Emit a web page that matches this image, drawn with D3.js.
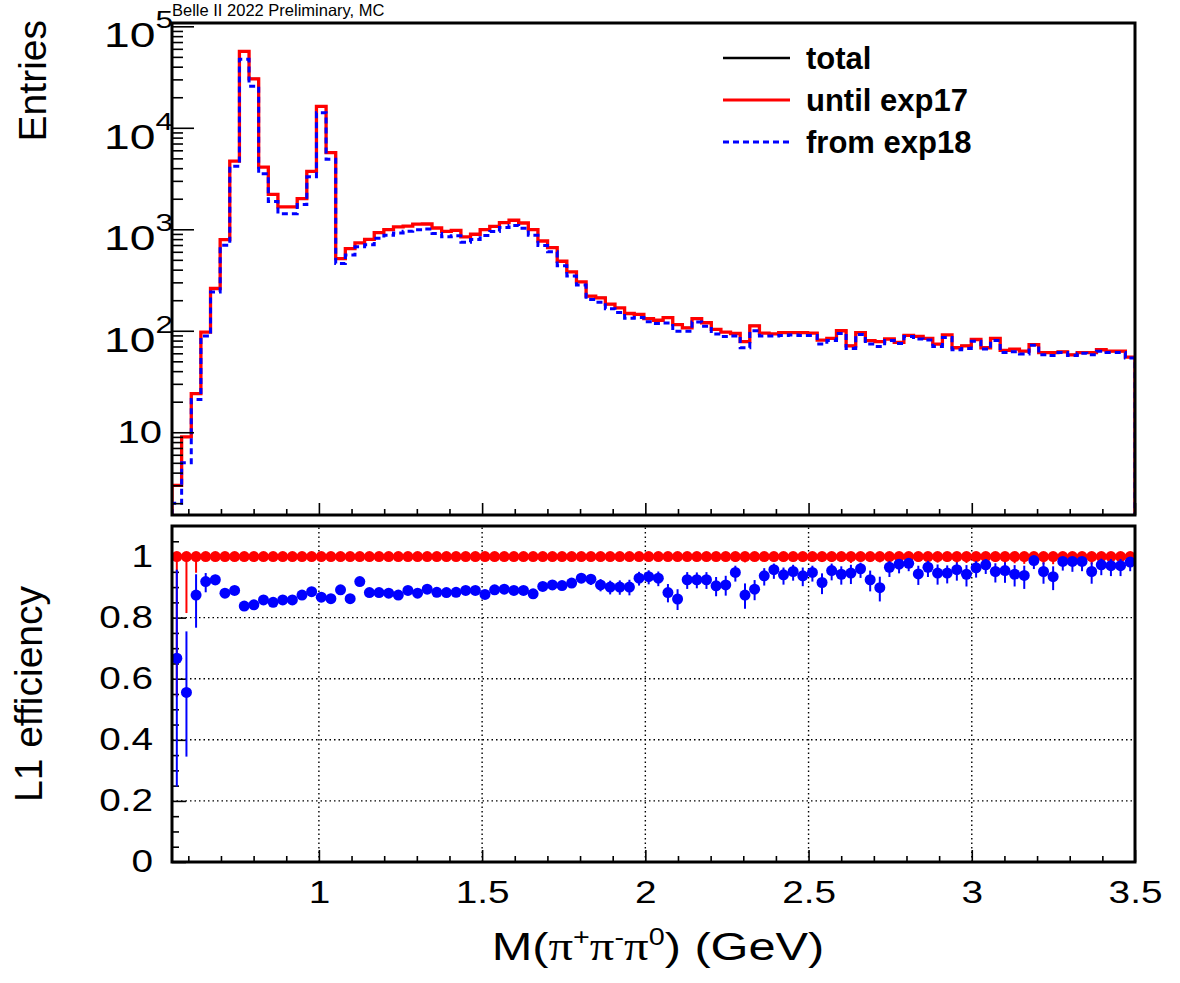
<!DOCTYPE html>
<html>
<head>
<meta charset="utf-8">
<script src="https://cdn.jsdelivr.net/npm/d3@7"></script>
<style>
  body { margin: 0; background: #fff; }
  svg { display: block; font-family: "Liberation Sans", Arial, sans-serif; }
</style>
</head>
<body>
<svg class="graph" width="1180" height="983"></svg>
<script>
// ---- data ----
const massRange = [0.55, 3.5];              // GeV, 100 bins
const xTickValues = [1, 1.5, 2, 2.5, 3, 3.5];
const logTickValues = [10, 100, 1000, 10000, 100000];
const effTickValues = [0, 0.2, 0.4, 0.6, 0.8, 1];

const total = [
    3, 9, 24, 97, 261, 792, 4700, 56500, 30400, 4100,
    2210, 1660, 1660, 2005, 3720, 16250, 5690, 515, 646, 733,
    797, 927, 993, 1054, 1075, 1125, 1128, 1030, 955, 977,
    840, 893, 993, 1070, 1164, 1227, 1153, 993, 767, 661,
    484, 380, 303, 219, 211, 183, 168, 148, 145, 132,
    127, 135, 115, 107, 132, 120, 103, 97, 94, 78,
    112, 95, 93, 96, 96, 96, 95, 81, 84, 100,
    71, 96, 80, 78, 83, 77, 90, 88, 84, 74,
    91, 68, 71, 82, 68, 84, 64, 66, 63, 73,
    61, 61, 62, 58, 61, 61, 65, 63, 63, 55
];
// until exp17 passes every event, so it sits exactly on top of the total
const untilExp17 = total.slice();
const fromExp18 = [
    2, 5, 21, 89, 241, 697, 4180, 47350, 25600, 3520,
    1880, 1425, 1425, 1752, 3292, 14090, 4905, 459, 557, 673,
    703, 818, 874, 921, 956, 990, 1007, 909, 842, 863,
    747, 794, 868, 953, 1039, 1091, 1025, 872, 692, 600,
    438, 347, 282, 203, 191, 165, 151, 133, 135, 123,
    118, 119, 99, 99, 122, 111, 93, 88, 89, 68,
    100, 89, 89, 90, 91, 90, 90, 74, 80, 94,
    67, 92, 74, 70, 80, 75, 88, 83, 81, 70,
    86, 65, 67, 79, 66, 80, 61, 62, 59, 72,
    58, 57, 61, 57, 60, 58, 63, 61, 61, 54
];

const effExp17 = [
    1, 1, 1, 1, 1, 1, 1, 1, 1, 1, 1, 1, 1, 1, 1, 1, 1, 1, 1, 1,
    1, 1, 1, 1, 1, 1, 1, 1, 1, 1, 1, 1, 1, 1, 1, 1, 1, 1, 1, 1,
    1, 1, 1, 1, 1, 1, 1, 1, 1, 1, 1, 1, 1, 1, 1, 1, 1, 1, 1, 1,
    1, 1, 1, 1, 1, 1, 1, 1, 1, 1, 1, 1, 1, 1, 1, 1, 1, 1, 1, 1,
    1, 1, 1, 1, 1, 1, 1, 1, 1, 1, 1, 1, 1, 1, 1, 1, 1, 1, 1, 1
];
const effExp17ErrLo = [
    0.46, 0.185, 0.053, 0.012, 0.005, 0.002, 0.0003, 0.00003, 0.00005, 0.0003,
    0.0006, 0.0008, 0.0008, 0.0007, 0.0004, 0.0001, 0.0002, 0.003, 0.002, 0.002,
    0.002, 0.002, 0.002, 0.002, 0.002, 0.002, 0.002, 0.002, 0.002, 0.002,
    0.002, 0.002, 0.002, 0.002, 0.002, 0.002, 0.002, 0.002, 0.002, 0.002,
    0.003, 0.004, 0.005, 0.007, 0.007, 0.008, 0.009, 0.010, 0.010, 0.011,
    0.012, 0.011, 0.013, 0.014, 0.011, 0.012, 0.014, 0.015, 0.016, 0.019,
    0.013, 0.016, 0.016, 0.016, 0.016, 0.016, 0.016, 0.018, 0.018, 0.015,
    0.021, 0.016, 0.018, 0.019, 0.018, 0.019, 0.017, 0.017, 0.018, 0.020,
    0.017, 0.022, 0.021, 0.018, 0.022, 0.018, 0.023, 0.022, 0.024, 0.020,
    0.025, 0.025, 0.024, 0.026, 0.025, 0.025, 0.023, 0.024, 0.024, 0.027
];

const effExp18 = [
    0.667, 0.555, 0.874, 0.918, 0.924, 0.880, 0.889, 0.838, 0.842, 0.858,
    0.850, 0.858, 0.858, 0.874, 0.885, 0.867, 0.862, 0.891, 0.862, 0.918,
    0.882, 0.882, 0.880, 0.874, 0.889, 0.880, 0.893, 0.883, 0.882, 0.883,
    0.889, 0.889, 0.876, 0.891, 0.893, 0.889, 0.889, 0.878, 0.902, 0.907,
    0.905, 0.913, 0.929, 0.926, 0.907, 0.900, 0.900, 0.900, 0.929, 0.934,
    0.929, 0.882, 0.861, 0.924, 0.924, 0.924, 0.904, 0.907, 0.948, 0.874,
    0.893, 0.937, 0.957, 0.940, 0.951, 0.937, 0.948, 0.915, 0.954, 0.942,
    0.946, 0.960, 0.924, 0.898, 0.965, 0.975, 0.978, 0.943, 0.965, 0.946,
    0.946, 0.957, 0.942, 0.963, 0.973, 0.951, 0.954, 0.942, 0.938, 0.987,
    0.951, 0.934, 0.984, 0.984, 0.984, 0.951, 0.973, 0.970, 0.970, 0.982
];
const effExp18ErrLo = [
    0.42, 0.21, 0.107, 0.035, 0.018, 0.012, 0.005, 0.002, 0.002, 0.005,
    0.008, 0.009, 0.009, 0.008, 0.006, 0.003, 0.005, 0.015, 0.014, 0.012,
    0.012, 0.011, 0.011, 0.011, 0.010, 0.010, 0.010, 0.011, 0.011, 0.011,
    0.012, 0.011, 0.011, 0.010, 0.010, 0.009, 0.010, 0.011, 0.011, 0.012,
    0.014, 0.015, 0.016, 0.019, 0.021, 0.024, 0.025, 0.027, 0.024, 0.025,
    0.026, 0.032, 0.036, 0.030, 0.028, 0.030, 0.034, 0.035, 0.030, 0.045,
    0.036, 0.032, 0.030, 0.032, 0.030, 0.034, 0.030, 0.038, 0.032, 0.034,
    0.036, 0.030, 0.038, 0.045, 0.032, 0.030, 0.026, 0.036, 0.032, 0.038,
    0.034, 0.036, 0.040, 0.032, 0.030, 0.036, 0.040, 0.040, 0.044, 0.028,
    0.040, 0.044, 0.030, 0.034, 0.032, 0.040, 0.034, 0.034, 0.034, 0.030
];
const effExp18ErrHi = [
    0.29, 0.20, 0.068, 0.028, 0.016, 0.011, 0.005, 0.002, 0.002, 0.005,
    0.008, 0.009, 0.009, 0.008, 0.006, 0.003, 0.005, 0.014, 0.013, 0.011,
    0.011, 0.010, 0.010, 0.010, 0.009, 0.009, 0.009, 0.010, 0.010, 0.010,
    0.011, 0.010, 0.010, 0.009, 0.009, 0.008, 0.009, 0.010, 0.010, 0.011,
    0.013, 0.014, 0.014, 0.016, 0.019, 0.021, 0.022, 0.024, 0.021, 0.021,
    0.022, 0.028, 0.032, 0.025, 0.024, 0.025, 0.029, 0.030, 0.022, 0.038,
    0.030, 0.025, 0.020, 0.024, 0.022, 0.027, 0.022, 0.030, 0.023, 0.026,
    0.027, 0.020, 0.030, 0.036, 0.020, 0.017, 0.015, 0.027, 0.021, 0.028,
    0.025, 0.024, 0.030, 0.022, 0.019, 0.027, 0.027, 0.030, 0.032, 0.012,
    0.030, 0.034, 0.014, 0.015, 0.014, 0.030, 0.020, 0.022, 0.022, 0.016
];

const legendItems = [
    { label: 'total', color: '#000', width: 2.4, dash: null },
    { label: 'until exp17', color: '#ff0000', width: 3, dash: null },
    { label: 'from exp18', color: '#0000ff', width: 3, dash: '6,4' }
];

// ---- layout ----
const frame = { left: 172, right: 1135 };
const topPad = { top: 23, bottom: 515 };
const botPad = { top: 526, bottom: 862 };
const labelStretch = 1.25;  // ROOT labels render wider than Liberation Sans

const svg = d3.select('svg.graph');

const x = d3.scaleLinear().domain(massRange).range([frame.left, frame.right]);
const yLog = d3.scaleLog().domain([1.53, 1.078e5]).range([topPad.bottom, topPad.top]);
const yEff = d3.scaleLinear().domain([0, 1.1]).range([botPad.bottom, botPad.top]);

const nBins = total.length;
const binW = (massRange[1] - massRange[0]) / nBins;
const edges = d3.range(nBins + 1).map(i => massRange[0] + i * binW);
const centers = d3.range(nBins).map(i => massRange[0] + (i + 0.5) * binW);

// clip paths for both pads
const defs = svg.append('defs');
defs.append('clipPath').attr('id', 'clipTop').append('rect')
    .attr('x', frame.left).attr('y', topPad.top)
    .attr('width', frame.right - frame.left).attr('height', topPad.bottom - topPad.top);
defs.append('clipPath').attr('id', 'clipBot').append('rect')
    .attr('x', frame.left).attr('y', botPad.top)
    .attr('width', frame.right - frame.left).attr('height', botPad.bottom - botPad.top);

// header
svg.append('text')
    .attr('x', frame.left).attr('y', 16)
    .attr('font-size', 16.5)
    .text('Belle II 2022 Preliminary, MC');

//// top pad: histograms
const yMin = yLog.domain()[0];
const stepPoints = vals => {
    const pts = [[edges[0], yMin]];
    vals.forEach((v, i) => pts.push([edges[i], v], [edges[i + 1], v]));
    pts.push([edges[nBins], yMin]);
    return pts;
};
const histLine = d3.line()
    .x(d => x(d[0]))
    .y(d => yLog(Math.max(d[1], yMin)));

const histG = svg.append('g').attr('clip-path', 'url(#clipTop)');
[
    { vals: total, color: '#000', width: 2, dash: null },
    { vals: untilExp17, color: '#ff0000', width: 3.3, dash: null },
    { vals: fromExp18, color: '#0000ff', width: 3, dash: '6,4' }
].forEach(h => {
    histG.append('path')
        .attr('d', histLine(stepPoints(h.vals)))
        .attr('fill', 'none')
        .attr('stroke', h.color)
        .attr('stroke-width', h.width)
        .attr('stroke-dasharray', h.dash);
});

// top pad axes (ticks pointing inward)
const logMinor = [];
d3.range(0, 5).forEach(d => d3.range(2, 10).forEach(k => {
    const v = k * Math.pow(10, d);
    if (v >= yLog.domain()[0] && v <= yLog.domain()[1]) logMinor.push(v);
}));
svg.append('g').attr('transform', `translate(${frame.left},0)`)
    .call(d3.axisLeft(yLog).tickValues(logMinor).tickSize(-11).tickFormat(''))
    .call(g => g.select('.domain').remove());
svg.append('g').attr('transform', `translate(${frame.left},0)`)
    .call(d3.axisLeft(yLog).tickValues(logTickValues).tickSize(-22).tickFormat(''))
    .call(g => g.select('.domain').remove());

// log labels: 10, 10^2 ... 10^5
logTickValues.forEach(v => {
    const e = Math.round(Math.log10(v));
    const py = yLog(v);
    if (e === 1) {
        svg.append('text')
            .attr('transform', `translate(162,${py + 11}) scale(${labelStretch},1)`)
            .attr('text-anchor', 'end')
            .attr('font-size', 32)
            .text('10');
    } else {
        const t = svg.append('text')
            .attr('transform', `translate(173,${py + 21}) scale(1.32,1)`)
            .attr('text-anchor', 'end')
            .attr('font-size', 35);
        t.append('tspan').text('10');
        t.append('tspan').attr('font-size', 24).attr('dy', -19).text(e);
    }
});

const xMinor = d3.range(6, 35).map(k => k / 10).filter(v => !xTickValues.includes(v));
svg.append('g').attr('transform', `translate(0,${topPad.bottom})`)
    .call(d3.axisBottom(x).tickValues(xMinor).tickSize(-6).tickFormat(''))
    .call(g => g.select('.domain').remove());
svg.append('g').attr('transform', `translate(0,${topPad.bottom})`)
    .call(d3.axisBottom(x).tickValues(xTickValues).tickSize(-12).tickFormat(''))
    .call(g => g.select('.domain').remove());

svg.selectAll('.tick line').attr('stroke', '#000').attr('stroke-width', 1.6);

svg.append('text')
    .attr('transform', 'translate(46,20) rotate(-90)')
    .attr('text-anchor', 'end')
    .attr('font-size', 39)
    .text('Entries');

// legend
const legend = svg.append('g');
legendItems.forEach((d, i) => {
    const ly = 58 + i * 42;
    legend.append('line')
        .attr('x1', 723).attr('x2', 790).attr('y1', ly).attr('y2', ly)
        .attr('stroke', d.color).attr('stroke-width', d.width)
        .attr('stroke-dasharray', d.dash);
    legend.append('text')
        .attr('x', 806).attr('y', ly + 11)
        .attr('font-size', 31).attr('font-weight', 'bold')
        .text(d.label);
});

svg.append('rect')
    .attr('x', frame.left).attr('y', topPad.top)
    .attr('width', frame.right - frame.left).attr('height', topPad.bottom - topPad.top)
    .attr('fill', 'none').attr('stroke', '#000').attr('stroke-width', 3);

//// bottom pad: efficiencies
const grid = svg.append('g')
    .attr('stroke', '#000').attr('stroke-width', 1.4).attr('stroke-dasharray', '1.5,3');
grid.selectAll('line.gx').data(xTickValues.filter(v => v < massRange[1]))
    .enter().append('line').attr('class', 'gx')
    .attr('x1', d => x(d)).attr('x2', d => x(d))
    .attr('y1', botPad.bottom).attr('y2', botPad.top);
grid.selectAll('line.gy').data(effTickValues.filter(v => v > 0))
    .enter().append('line').attr('class', 'gy')
    .attr('x1', frame.left).attr('x2', frame.right)
    .attr('y1', d => yEff(d)).attr('y2', d => yEff(d));

const effMinor = d3.range(1, 22).map(k => k / 20).filter((v, i) => (i + 1) % 4 !== 0);
const botAxes = svg.append('g');
botAxes.append('g').attr('transform', `translate(${frame.left},0)`)
    .call(d3.axisLeft(yEff).tickValues(effMinor).tickSize(-7).tickFormat(''))
    .call(g => g.select('.domain').remove());
botAxes.append('g').attr('transform', `translate(${frame.left},0)`)
    .call(d3.axisLeft(yEff).tickValues(effTickValues).tickSize(-14).tickPadding(19)
        .tickFormat(d3.format('')))
    .call(g => g.select('.domain').remove())
    .call(g => g.selectAll('text')
        .attr('font-size', 31)
        .attr('x', -19 / labelStretch)
        .attr('transform', `scale(${labelStretch},1)`));
botAxes.append('g').attr('transform', `translate(0,${botPad.bottom})`)
    .call(d3.axisBottom(x).tickValues(xMinor).tickSize(-6).tickFormat(''))
    .call(g => g.select('.domain').remove());
botAxes.append('g').attr('transform', `translate(0,${botPad.bottom})`)
    .call(d3.axisBottom(x).tickValues(xTickValues).tickSize(-12).tickPadding(19)
        .tickFormat(d3.format('')))
    .call(g => g.select('.domain').remove())
    .call(g => g.selectAll('text')
        .attr('font-size', 31)
        .attr('transform', `scale(${labelStretch},1)`));
botAxes.selectAll('.tick line').attr('stroke', '#000').attr('stroke-width', 1.6);
botAxes.selectAll('.tick text').attr('fill', '#000');
// let axis text inherit the svg font instead of d3's sans-serif default
svg.selectAll('svg > g').attr('font-family', null);

// error bars + markers
const points = svg.append('g').attr('clip-path', 'url(#clipBot)');
const effSets = [
    { vals: effExp17, lo: effExp17ErrLo, hi: null, color: '#ff0000' },
    { vals: effExp18, lo: effExp18ErrLo, hi: effExp18ErrHi, color: '#0000ff' }
];
effSets.forEach(s => {
    const g = points.append('g');
    g.selectAll('line').data(s.vals).enter().append('line')
        .attr('x1', (d, i) => x(centers[i])).attr('x2', (d, i) => x(centers[i]))
        .attr('y1', (d, i) => yEff(d - s.lo[i]))
        .attr('y2', (d, i) => yEff(s.hi ? Math.min(d + s.hi[i], 1) : d))
        .attr('stroke', s.color).attr('stroke-width', 2);
    g.selectAll('circle').data(s.vals).enter().append('circle')
        .attr('cx', (d, i) => x(centers[i]))
        .attr('cy', d => yEff(d))
        .attr('r', 5.5)
        .attr('fill', s.color);
});

svg.append('rect')
    .attr('x', frame.left).attr('y', botPad.top)
    .attr('width', frame.right - frame.left).attr('height', botPad.bottom - botPad.top)
    .attr('fill', 'none').attr('stroke', '#000').attr('stroke-width', 3);

svg.append('text')
    .attr('transform', `translate(42,${(botPad.top + botPad.bottom) / 2}) rotate(-90)`)
    .attr('text-anchor', 'middle')
    .attr('font-size', 39)
    .text('L1 efficiency');

// x title: M(π+π-π0) (GeV)
const xTitle = svg.append('text')
    .attr('transform', `translate(658,960) scale(${labelStretch},1)`)
    .attr('text-anchor', 'middle')
    .attr('font-size', 39);
xTitle.append('tspan').text('M(');
xTitle.append('tspan').attr('font-family', '"Liberation Serif", serif').text('π');
xTitle.append('tspan').attr('font-size', 23).attr('dy', -15).text('+');
xTitle.append('tspan').attr('font-family', '"Liberation Serif", serif').attr('dy', 15).text('π');
xTitle.append('tspan').attr('font-size', 23).attr('dy', -15).text('-');
xTitle.append('tspan').attr('font-family', '"Liberation Serif", serif').attr('dy', 15).text('π');
xTitle.append('tspan').attr('font-size', 23).attr('dy', -15).text('0');
xTitle.append('tspan').attr('dy', 15).text(') (GeV)');
</script>
</body>
</html>
